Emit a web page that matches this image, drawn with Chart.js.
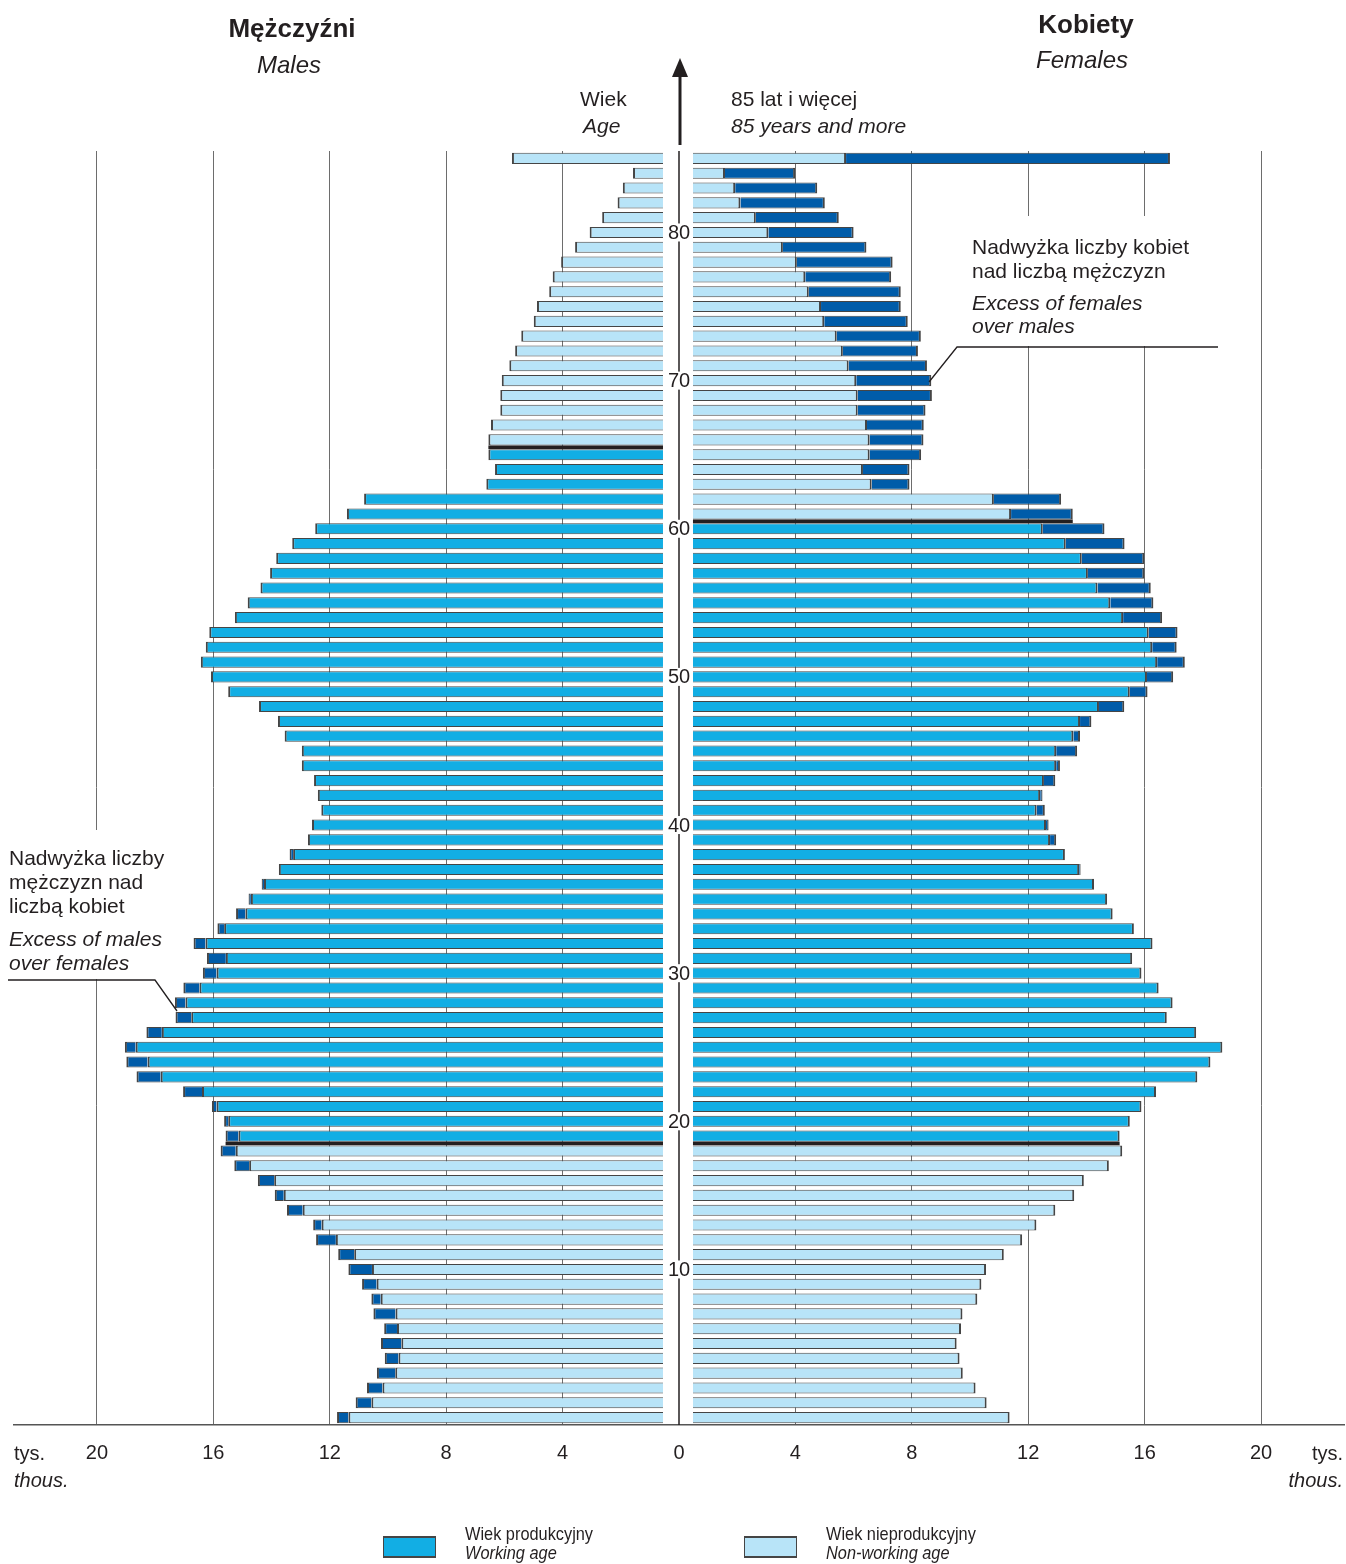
<!DOCTYPE html>
<html>
<head>
<meta charset="utf-8">
<script src="https://cdn.jsdelivr.net/npm/chart.js@4.4.1/dist/chart.umd.min.js"></script>
<style>
    html, body { margin: 0; padding: 0; background: #fff; }
    #wrap { width: 1346px; height: 1564px; }
</style>
</head>
<body>
<div id="wrap"><canvas id="pyramid" width="1346" height="1564"></canvas></div>
<script>
/* ============================== DATA ============================== */
// age 0 .. 84, then 85+
const ageLabels = Array.from({ length: 85 }, (_, i) => String(i)).concat('85+');

// tys. (thousands), index = age
const males = [
    11.75, 11.11, 10.72, 10.38, 10.11, 10.24, 10.13, 10.50, 10.57, 10.89,
    11.36, 11.71, 12.47, 12.57, 13.47, 13.89, 14.47, 15.28, 15.75, 15.58,
    15.63, 16.05, 17.04, 18.64, 18.99, 19.04, 18.30, 17.30, 17.32, 17.03,
    16.36, 16.22, 16.68, 15.86, 15.22, 14.79, 14.34, 13.75, 13.38, 12.75,
    12.61, 12.29, 12.41, 12.54, 12.96, 12.96, 13.55, 13.78, 14.43, 15.49,
    16.08, 16.43, 16.26, 16.14, 15.26, 14.82, 14.38, 14.05, 13.84, 13.29,
    12.50, 11.41, 10.82, 6.62, 6.32, 6.55, 6.55, 6.46, 6.14, 6.14,
    6.09, 5.83, 5.63, 5.42, 4.99, 4.88, 4.46, 4.34, 4.05, 3.57,
    3.07, 2.64, 2.11, 1.93, 1.58, 5.74
];
const females = [
    11.36, 10.57, 10.19, 9.75, 9.64, 9.54, 9.69, 9.74, 10.25, 10.39,
    10.55, 11.16, 11.79, 12.28, 12.93, 13.58, 13.91, 14.77, 15.23, 15.14,
    15.49, 15.89, 16.39, 17.81, 18.26, 18.67, 17.77, 16.76, 16.96, 16.48,
    15.89, 15.57, 16.27, 15.63, 14.90, 14.71, 14.26, 13.80, 13.26, 12.96,
    12.70, 12.57, 12.49, 12.93, 13.09, 13.68, 13.78, 14.17, 15.30, 16.10,
    16.98, 17.38, 17.10, 17.13, 16.60, 16.30, 16.21, 15.99, 15.99, 15.31,
    14.62, 13.53, 13.13, 7.92, 7.92, 8.32, 8.40, 8.41, 8.47, 8.69,
    8.67, 8.52, 8.21, 8.31, 7.86, 7.62, 7.62, 7.29, 7.34, 6.44,
    6.00, 5.49, 5.01, 4.75, 3.99, 16.87
];

// first and last age of the working-age group
const workingMale = [19, 65];
const workingFemale = [19, 60];

const tickValues = [-20, -16, -12, -8, -4, 0, 4, 8, 12, 16, 20];
const ageTicks = [10, 20, 30, 40, 50, 60, 70, 80];


/* ============================== STYLE ============================== */
const LIGHT = '#b8e4f8';     // wiek nieprodukcyjny
const MEDIUM = '#12aee4';    // wiek produkcyjny
const DARK = '#005ca9';      // nadwyżka
const EDGE = '#454545';
const INK = '#231f20';
const FONT = '"Liberation Sans", Arial, sans-serif';

const MALE_GAP = 0.55;       // bars start a little off the centre line
const FEMALE_GAP = 0.48;

const isWorking = (range, age) => age >= range[0] && age <= range[1];

// condensed text (no narrow font installed)
function narrowText(ctx, text, x, y, squeeze) {
    ctx.save();
    ctx.translate(x, y);
    ctx.scale(squeeze, 1);
    ctx.fillText(text, 0, 0);
    ctx.restore();
}


/* ============================== GRAPH ============================== */
const pyramidPlugin = {
    id: 'pyramidPlugin',
    afterDatasetsDraw(chart) {
        const { ctx, chartArea } = chart;
        const x = chart.scales.x;
        const y = chart.scales.y;
        const cx = x.getPixelForValue(0);

        ctx.save();

        // white patches where the notes cut the grid
        ctx.fillStyle = '#fff';
        ctx.fillRect(0, 830, 172, 149);
        ctx.fillRect(950, 216, 262, 130);

        // centre line + arrow
        ctx.strokeStyle = INK;
        ctx.lineWidth = 1.5;
        ctx.beginPath();
        ctx.moveTo(cx, chartArea.top);
        ctx.lineTo(cx, chartArea.bottom);
        ctx.stroke();

        ctx.lineWidth = 3;
        ctx.beginPath();
        ctx.moveTo(cx + 1, 145);
        ctx.lineTo(cx + 1, 72);
        ctx.stroke();
        ctx.fillStyle = INK;
        ctx.beginPath();
        ctx.moveTo(cx + 1, 58);
        ctx.lineTo(cx - 7, 77);
        ctx.lineTo(cx + 9, 77);
        ctx.closePath();
        ctx.fill();

        // thick lines at the edges of the working age
        const boundary = (range, values, sign, gap) => {
            [range[0], range[1] + 1].forEach(upper => {
                const yy = (y.getPixelForValue(upper) + y.getPixelForValue(upper - 1)) / 2;
                ctx.beginPath();
                ctx.moveTo(x.getPixelForValue(sign * gap), yy);
                ctx.lineTo(x.getPixelForValue(sign * values[upper]), yy);
                ctx.stroke();
            });
        };
        ctx.strokeStyle = INK;
        ctx.lineWidth = 3.5;
        boundary(workingMale, males, -1, MALE_GAP);
        boundary(workingFemale, females, 1, FEMALE_GAP);

        // age labels on the centre line
        ctx.font = '20px ' + FONT;
        ctx.textAlign = 'center';
        ctx.textBaseline = 'middle';
        ageTicks.forEach(a => {
            const yy = y.getPixelForValue(a);
            const w = ctx.measureText(String(a)).width;
            ctx.fillStyle = '#fff';
            ctx.fillRect(cx - w / 2 - 1, yy - 9, w + 2, 18);
            ctx.fillStyle = INK;
            ctx.fillText(String(a), cx, yy + 1);
        });

        ctx.restore();
    },
    afterDraw(chart) {
        const { ctx } = chart;
        ctx.save();
        ctx.fillStyle = INK;
        ctx.textBaseline = 'alphabetic';

        // headings
        ctx.textAlign = 'center';
        ctx.font = 'bold 26px ' + FONT;
        ctx.fillText('Mężczyźni', 292, 37);
        ctx.fillText('Kobiety', 1086, 33);
        ctx.font = 'italic 24px ' + FONT;
        ctx.fillText('Males', 289, 73);
        ctx.fillText('Females', 1082, 68);

        ctx.textAlign = 'left';
        ctx.font = '21px ' + FONT;
        ctx.fillText('Wiek', 580, 106);
        ctx.fillText('85 lat i więcej', 731, 106);
        ctx.font = 'italic 21px ' + FONT;
        ctx.fillText('Age', 583, 133);
        ctx.fillText('85 years and more', 731, 133);

        // notes
        ctx.font = '21px ' + FONT;
        ['Nadwyżka liczby', 'mężczyzn nad', 'liczbą kobiet'].forEach((t, i) => ctx.fillText(t, 9, 865 + i * 24));
        ['Nadwyżka liczby kobiet', 'nad liczbą mężczyzn'].forEach((t, i) => ctx.fillText(t, 972, 254 + i * 24));
        ctx.font = 'italic 21px ' + FONT;
        ['Excess of males', 'over females'].forEach((t, i) => ctx.fillText(t, 9, 946 + i * 24));
        ['Excess of females', 'over males'].forEach((t, i) => ctx.fillText(t, 972, 310 + i * 23));

        ctx.strokeStyle = INK;
        ctx.lineWidth = 1.3;
        ctx.beginPath();
        ctx.moveTo(8, 980); ctx.lineTo(155, 980); ctx.lineTo(177, 1011);
        ctx.moveTo(1218, 347); ctx.lineTo(957, 347); ctx.lineTo(929, 382);
        ctx.stroke();

        // axis unit
        ctx.font = '20px ' + FONT;
        ctx.fillText('tys.', 14, 1460);
        ctx.textAlign = 'right';
        ctx.fillText('tys.', 1343, 1460);
        ctx.font = 'italic 20px ' + FONT;
        ctx.fillText('thous.', 1343, 1487);
        ctx.textAlign = 'left';
        ctx.fillText('thous.', 14, 1487);

        // legend
        const legendBox = (bx, color, line1, line2) => {
            ctx.fillStyle = color;
            ctx.fillRect(bx, 1537, 53, 20);
            ctx.strokeStyle = EDGE;
            ctx.lineWidth = 1;
            ctx.strokeRect(bx + 0.5, 1537.5, 52, 19);
            ctx.lineWidth = 2;
            ctx.beginPath();
            ctx.moveTo(bx, 1537); ctx.lineTo(bx + 53, 1537);
            ctx.moveTo(bx, 1557); ctx.lineTo(bx + 53, 1557);
            ctx.stroke();
            ctx.fillStyle = INK;
            ctx.font = '19px ' + FONT;
            narrowText(ctx, line1, bx + 82, 1540, 0.86);
            ctx.font = 'italic 19px ' + FONT;
            narrowText(ctx, line2, bx + 82, 1559, 0.86);
        };
        legendBox(383, MEDIUM, 'Wiek produkcyjny', 'Working age');
        legendBox(744, LIGHT, 'Wiek nieprodukcyjny', 'Non-working age');

        ctx.restore();
    }
};


function pyramidChart() {
    const ctx = document.getElementById('pyramid').getContext('2d');

    const common = {
        borderColor: EDGE,
        borderSkipped: false,
        barPercentage: 0.75,
        categoryPercentage: 1.0,
        grouped: false
    };

    new Chart(ctx, {
        type: 'bar',
        data: {
            labels: ageLabels,
            datasets: [
                {
                    ...common,
                    label: 'Mężczyźni',
                    data: males.map((m, i) => [-MALE_GAP, -Math.min(m, females[i])]),
                    backgroundColor: ageLabels.map((_, i) => isWorking(workingMale, i) ? MEDIUM : LIGHT),
                    borderWidth: { top: 1, bottom: 1, left: 2, right: 0 }
                },
                {
                    ...common,
                    label: 'Nadwyżka mężczyzn',
                    data: males.map((m, i) => m > females[i] ? [-females[i], -m] : null),
                    backgroundColor: DARK,
                    borderWidth: { top: 1, bottom: 1, left: 2, right: 0 }
                },
                {
                    ...common,
                    label: 'Kobiety',
                    data: females.map((f, i) => [FEMALE_GAP, Math.min(f, males[i])]),
                    backgroundColor: ageLabels.map((_, i) => isWorking(workingFemale, i) ? MEDIUM : LIGHT),
                    borderWidth: { top: 1, bottom: 1, left: 0, right: 2 }
                },
                {
                    ...common,
                    label: 'Nadwyżka kobiet',
                    data: females.map((f, i) => f > males[i] ? [males[i], f] : null),
                    backgroundColor: DARK,
                    borderWidth: { top: 1, bottom: 1, left: 0, right: 2 }
                }
            ]
        },
        options: {
            indexAxis: 'y',
            responsive: false,
            animation: false,
            layout: { padding: { top: 151, left: 14, right: 2, bottom: 0 } },
            scales: {
                x: {
                    type: 'linear',
                    min: -22.85,
                    max: 22.85,
                    afterBuildTicks: axis => { axis.ticks = tickValues.map(v => ({ value: v })); },
                    afterFit: scale => { scale.height = 139; },
                    ticks: {
                        callback: v => String(Math.abs(v)),
                        font: { family: FONT, size: 20 },
                        color: INK,
                        padding: 16,
                        maxRotation: 0
                    },
                    grid: {
                        drawTicks: false,
                        color: c => (c.tick && c.tick.value === 0) ? 'rgba(0,0,0,0)' : '#6d6d6d',
                        lineWidth: 1
                    },
                    border: { display: true, color: '#555', width: 1.5 }
                },
                y: {
                    type: 'category',
                    reverse: true,
                    display: false
                }
            },
            plugins: {
                legend: { display: false },
                tooltip: { enabled: false }
            }
        },
        plugins: [pyramidPlugin]
    });
}

pyramidChart();
</script>
</body>
</html>
